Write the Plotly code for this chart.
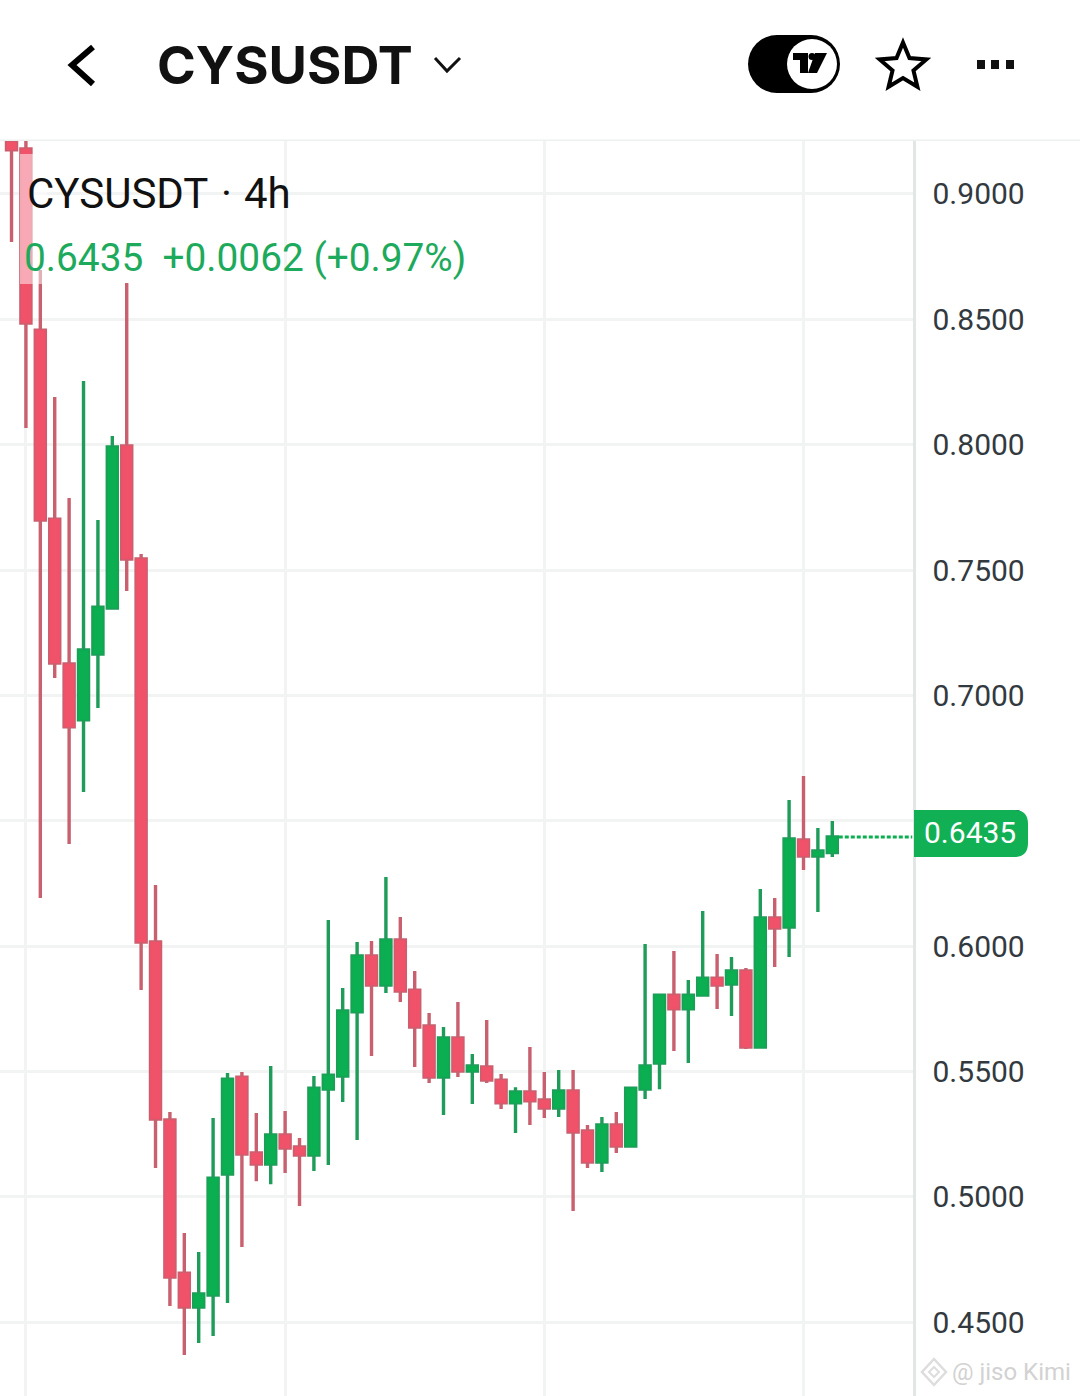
import math
import plotly.graph_objects as go

W = 1080
H = 1396

# price readings, one per 4h candle
opens = [.9207, .9180, .8457, .7703, .7125, .6902, .7165, .7348, .7995, .7544,
         .6016, .5306, .4695, .4560, .4608, .5090, .5477, .5174, .5130, .5246,
         .5198, .5166, .5429, .5481, .5737, .5960, .5844, .6024, .5824, .5681,
         .5477, .5633, .5501, .5517, .5465, .5374, .5418, .5386, .5354, .5422,
         .5262, .5138, .5286, .5202, .5429, .5533, .5804, .5749, .5804, .5872,
         .5848, .5900, .5597, .6112, .6076, .6423, .6359, .6373]
highs = [.9207, .9211, .8697, .8190, .7787, .8254, .7699, .8035, .8645, .7564,
         .6243, .5338, .4855, .4779, .5314, .5493, .5497, .5334, .5521, .5342,
         .5234, .5481, .6104, .5832, .6016, .6020, .6275, .6116, .5900, .5733,
         .5677, .5777, .5569, .5705, .5489, .5437, .5597, .5497, .5505, .5505,
         .5286, .5318, .5338, .5437, .6008, .5804, .5980, .5864, .6140, .5968,
         .5956, .5912, .6227, .6191, .6582, .6678, .6471, .6499]
lows = [.8808, .8066, .6191, .7069, .6407, .6614, .6949, .7344, .7416, .5824,
        .5114, .4564, .4368, .4416, .4444, .4576, .4799, .5062, .5050, .5094,
        .4963, .5102, .5126, .5378, .5226, .5561, .5812, .5777, .5517, .5453,
        .5326, .5477, .5370, .5453, .5350, .5254, .5286, .5314, .5318, .4943,
        .5114, .5098, .5174, .5198, .5390, .5429, .5581, .5533, .5804, .5749,
        .5721, .5589, .5597, .5916, .5956, .6303, .6136, .6355]
closes = [.9176, .8485, .7699, .7129, .6874, .7181, .7352, .7991, .7544, .6016,
          .5310, .4679, .4560, .4612, .5074, .5469, .5170, .5130, .5246, .5194,
          .5166, .5433, .5485, .5741, .5960, .5844, .6024, .5820, .5677, .5477,
          .5633, .5501, .5521, .5465, .5374, .5418, .5382, .5354, .5422, .5258,
          .5138, .5286, .5202, .5433, .5521, .5804, .5749, .5804, .5872, .5844,
          .5900, .5597, .6112, .6072, .6427, .6359, .6379, .6435]
candles = list(range(len(opens)))

price_ticks = [.45, .50, .55, .60, .65, .70, .75, .80, .85, .90]
day_ticks = [1, 19, 37, 55]
last_price = closes[-1]

GREEN = "#0BAE50"
RED = "#F0526A"
WICK_GREEN = "#1F9C5A"
WICK_RED = "#C8606F"
GRID = "#F2F3F3"
TEXT_GREEN = "#1DAA5C"
X_END = 62.57


# header icons and overlays are placed in page pixels
def px(x):
    return x / W


def py(y):
    return 1 - y / H


def poly(points, close=True):
    d = "M " + " L ".join(f"{px(x):.5f},{py(y):.5f}" for x, y in points)
    return d + (" Z" if close else "")


def icon(points, close=True, fill=None, line=None, width=0):
    return dict(type="path", xref="paper", yref="paper", path=poly(points, close),
                fillcolor=fill if fill else "rgba(0,0,0,0)",
                line=dict(color=line if line else "rgba(0,0,0,0)", width=width),
                layer="above")


def box(x0, y0, x1, y1, fill, opacity=1):
    return dict(type="rect", xref="paper", yref="paper", x0=px(x0), x1=px(x1), y0=py(y1), y1=py(y0),
                fillcolor=fill, opacity=opacity, line=dict(width=0), layer="above")


def disc(cx, cy, r, fill):
    return dict(type="circle", xref="paper", yref="paper", x0=px(cx - r), x1=px(cx + r),
                y0=py(cy + r), y1=py(cy - r), fillcolor=fill, line=dict(width=0), layer="above")


def label(x, y, text, size, color, anchor="left", family="Roboto", weight=400):
    return dict(xref="paper", yref="paper", x=px(x), y=py(y), text=text, showarrow=False,
                xanchor=anchor, yanchor="middle", borderpad=0,
                font=dict(family=family, size=size, color=color, weight=weight))


fig = go.Figure()

# wicks
fig.add_trace(go.Candlestick(
    x=candles, open=opens, high=highs, low=lows, close=closes,
    increasing=dict(line=dict(color=WICK_GREEN, width=3.4), fillcolor=GREEN),
    decreasing=dict(line=dict(color=WICK_RED, width=3.4), fillcolor=RED),
    whiskerwidth=0, hoverinfo="skip", showlegend=False))
# bodies on top, so the wick colour does not outline them
fig.add_trace(go.Candlestick(
    x=candles, open=opens, close=closes,
    high=[max(a, b) for a, b in zip(opens, closes)],
    low=[min(a, b) for a, b in zip(opens, closes)],
    increasing=dict(line=dict(color=GREEN, width=0.5), fillcolor=GREEN),
    decreasing=dict(line=dict(color=RED, width=0.5), fillcolor=RED),
    whiskerwidth=0, hoverinfo="skip", showlegend=False))

shapes = [
    # last price line
    dict(type="line", xref="x", yref="y", x0=candles[-1] + 0.45, x1=X_END, y0=last_price, y1=last_price,
         line=dict(color=GREEN, width=3, dash="4px,2px"), layer="above"),
    # veil behind the legend text, only the first candles run under it
    box(20, 154, 47, 284, "white", 0.5),
    # header rule
    box(0, 139.5, W, 141, "#EEF0F0"),
    # price badge
    dict(type="path", xref="paper", yref="paper", layer="above", fillcolor="#12B055", line=dict(width=0),
         path=f"M {px(914)},{py(810)} L {px(1014)},{py(810)} Q {px(1028)},{py(810)} {px(1028)},{py(824)} "
              f"L {px(1028)},{py(843)} Q {px(1028)},{py(857)} {px(1014)},{py(857)} L {px(914)},{py(857)} Z"),
    # back arrow and dropdown
    icon([(93, 47), (72, 65), (93, 84)], close=False, line="#000000", width=6),
    icon([(435, 58), (447, 71), (460, 58)], close=False, line="#111111", width=3),
    # tradingview toggle
    disc(777, 64, 29, "#000000"),
    disc(811, 64, 29, "#000000"),
    box(777, 35, 811, 93, "#000000"),
    disc(812, 64, 25, "#FFFFFF"),
    icon([(793, 53), (808, 53), (808, 73), (800, 73), (800, 60), (793, 60)], fill="#000000"),
    icon([(815, 53), (827, 53), (817, 73), (808, 73)], fill="#000000"),
    disc(812, 56.5, 3.5, "#000000"),
    # menu dots
    box(977, 60, 985, 69, "#111111"),
    box(991, 60, 999, 69, "#111111"),
    box(1006, 60, 1014, 69, "#111111"),
    # watermark logo
    icon([(934, 1359), (946, 1372), (934, 1385), (922, 1372)], line="#DDDDDD", width=2.5),
    icon([(934, 1367), (939, 1372), (934, 1377), (929, 1372)], line="#DDDDDD", width=2),
]

# star icon
star = []
for k in range(10):
    r = 24.5 if k % 2 == 0 else 11
    a = math.radians(-90 + 36 * k)
    star.append((903 + r * math.cos(a), 67 + r * math.sin(a)))
shapes.append(icon(star, line="#000000", width=4))

annotations = [
    label(156, 65, "CYSUSDT", 52.5, "#111111", family="Inter", weight=700),
    label(26, 193, "CYSUSDT", 42, "#111111"),
    label(226, 193, "·", 42, "#111111", anchor="center"),
    label(243, 193, "4h", 42, "#111111"),
    label(23, 258, "0.6435\u00a0\u00a0+0.0062 (+0.97%)", 38.8, TEXT_GREEN),
    label(970, 832.5, f"{last_price:.4f}", 30, "#FFFFFF", anchor="center"),
    label(951, 1372, "@ jiso Kimi", 24, "#D2D2D2"),
]

fig.update_layout(
    width=W, height=H,
    margin=dict(l=0, r=0, t=0, b=0),
    paper_bgcolor="white", plot_bgcolor="white",
    boxgap=0,
    showlegend=False,
    shapes=shapes,
    annotations=annotations,
)
fig.update_xaxes(
    domain=[0, 912.5 / W], range=[-0.8, X_END],
    rangeslider=dict(visible=False),
    tickmode="array", tickvals=day_ticks, showticklabels=False, ticks="",
    showgrid=True, gridcolor=GRID, gridwidth=2.5, zeroline=False, showline=False,
)
fig.update_yaxes(
    domain=[0, 1 - 141 / H], range=[0.42048, 0.92114],
    side="right",
    tickmode="array", tickvals=price_ticks, ticktext=[f"{v:.4f}" for v in price_ticks],
    tickfont=dict(family="Roboto", size=30, color="#333A3F"),
    ticks="", ticklabelstandoff=11,
    showgrid=True, gridcolor=GRID, gridwidth=2.5, zeroline=False,
    showline=True, linecolor="#E2E6E6", linewidth=3,
)

fig.write_html("out.html", config=dict(displayModeBar=False),
               post_script="document.body.style.margin='0';document.body.style.overflow='hidden';")
